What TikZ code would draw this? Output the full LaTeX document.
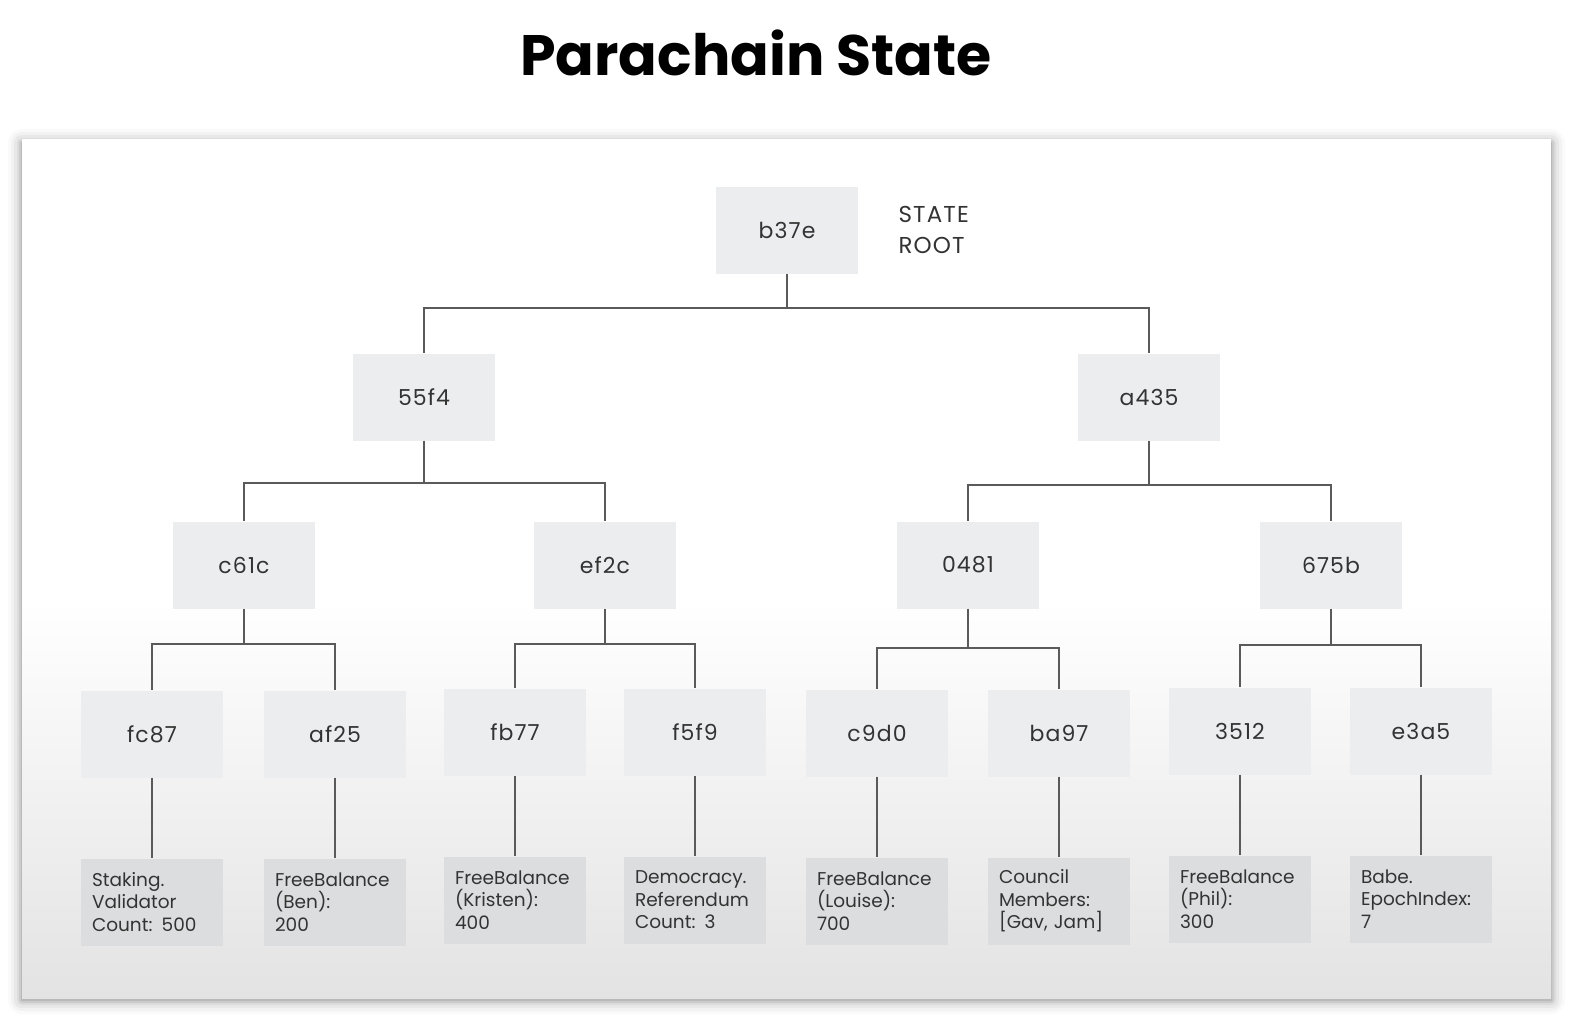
\documentclass[tikz,border=0pt]{standalone}
\usepackage{fontspec}
\setmainfont{Poppins}
\newfontfamily\titlefont[UprightFont=* Bold]{Poppins}
\newfontfamily\nodefont[LetterSpace=5]{Poppins}
\usetikzlibrary{calc}
\definecolor{boxfill}{HTML}{EBEDEE}
\definecolor{datafill}{HTML}{DCDDDE}
\definecolor{linegray}{HTML}{5A5A5A}
\definecolor{txt}{HTML}{333333}
\tikzset{
  hashbox/.style={fill=boxfill, minimum width=142pt, minimum height=87pt, inner sep=0pt,
    font=\nodefont\fontsize{22}{26}\selectfont, text=txt},
  databox/.style={fill=datafill, minimum width=142pt, minimum height=87pt, inner sep=0pt,
    text width=120pt, align=left, font=\fontsize{18.5}{22.5}\selectfont, text=txt},
  conn/.style={draw=linegray, line width=1.3pt}
}
\begin{document}
\begin{tikzpicture}[x=1pt,y=-1pt]
\useasboundingbox (0,0) rectangle (1592,1030);
\fill[white] (0,0) rectangle (1592,1030);
% panel shadow
\foreach \i/\o in {14/0.02,11/0.03,8/0.04,5/0.05,3/0.07,1/0.09}{
  \fill[black,opacity=\o,rounded corners=\i pt] (22-\i,139-\i+4) rectangle (1551+\i,998+\i+2);
}
% panel
\fill[white] (22,139) rectangle (1551,998);
\shade[top color=white, bottom color=black!11] (22,600) rectangle (1551,998);
% title
\node (title) at (756,53) {\titlefont\fontsize{57}{64}\selectfont Parachain State};
% hash nodes
\node[hashbox] (root) at (787,230) {b37e};
\node[anchor=west, align=left, font=\nodefont\fontsize{23}{31}\selectfont, text=txt] (rootlbl) at (895,230) {STATE\\ROOT};
\node[hashbox] (n55f4) at (424,397) {55f4};
\node[hashbox] (na435) at (1149,397) {a435};
\node[hashbox] (nc61c) at (244,565) {c61c};
\node[hashbox] (nef2c) at (605,565) {ef2c};
\node[hashbox] (n0481) at (968,565) {0481};
\node[hashbox] (n675b) at (1331,565) {675b};
\node[hashbox] (nfc87) at (152,734) {fc87};
\node[hashbox] (naf25) at (335,734) {af25};
\node[hashbox] (nfb77) at (515,732) {fb77};
\node[hashbox] (nf5f9) at (695,732) {f5f9};
\node[hashbox] (nc9d0) at (877,733) {c9d0};
\node[hashbox] (nba97) at (1059,733) {ba97};
\node[hashbox] (n3512) at (1240,731) {3512};
\node[hashbox] (ne3a5) at (1421,731) {e3a5};
% data nodes
\node[databox] (dfc87) at (152,902) {Staking.\\Validator\\Count: 500};
\node[databox] (daf25) at (335,902) {FreeBalance\\(Ben):\\200};
\node[databox] (dfb77) at (515,900) {FreeBalance\\(Kristen):\\400};
\node[databox] (df5f9) at (695,900) {Democracy.\\Referendum\\Count: 3};
\node[databox] (dc9d0) at (877,901) {FreeBalance\\(Louise):\\700};
\node[databox] (dba97) at (1059,901) {Council\\Members:\\{[Gav, Jam]}};
\node[databox] (d3512) at (1240,899) {FreeBalance\\(Phil):\\300};
\node[databox] (de3a5) at (1421,899) {Babe.\\EpochIndex:\\7};
% connectors
\draw[conn] (root.south) -- (root.south |- 0,308) -| (n55f4.north);
\draw[conn] (root.south |- 0,308) -| (na435.north);
\draw[conn] (n55f4.south) -- (n55f4.south |- 0,483) -| (nc61c.north);
\draw[conn] (n55f4.south |- 0,483) -| (nef2c.north);
\draw[conn] (na435.south) -- (na435.south |- 0,485) -| (n0481.north);
\draw[conn] (na435.south |- 0,485) -| (n675b.north);
\draw[conn] (nc61c.south) -- (nc61c.south |- 0,644) -| (nfc87.north);
\draw[conn] (nc61c.south |- 0,644) -| (naf25.north);
\draw[conn] (nef2c.south) -- (nef2c.south |- 0,644) -| (nfb77.north);
\draw[conn] (nef2c.south |- 0,644) -| (nf5f9.north);
\draw[conn] (n0481.south) -- (n0481.south |- 0,648) -| (nc9d0.north);
\draw[conn] (n0481.south |- 0,648) -| (nba97.north);
\draw[conn] (n675b.south) -- (n675b.south |- 0,645) -| (n3512.north);
\draw[conn] (n675b.south |- 0,645) -| (ne3a5.north);
\foreach \n in {fc87,af25,fb77,f5f9,c9d0,ba97,3512,e3a5}{
  \draw[conn] (n\n.south) -- (d\n.north);
}
\end{tikzpicture}
\end{document}
